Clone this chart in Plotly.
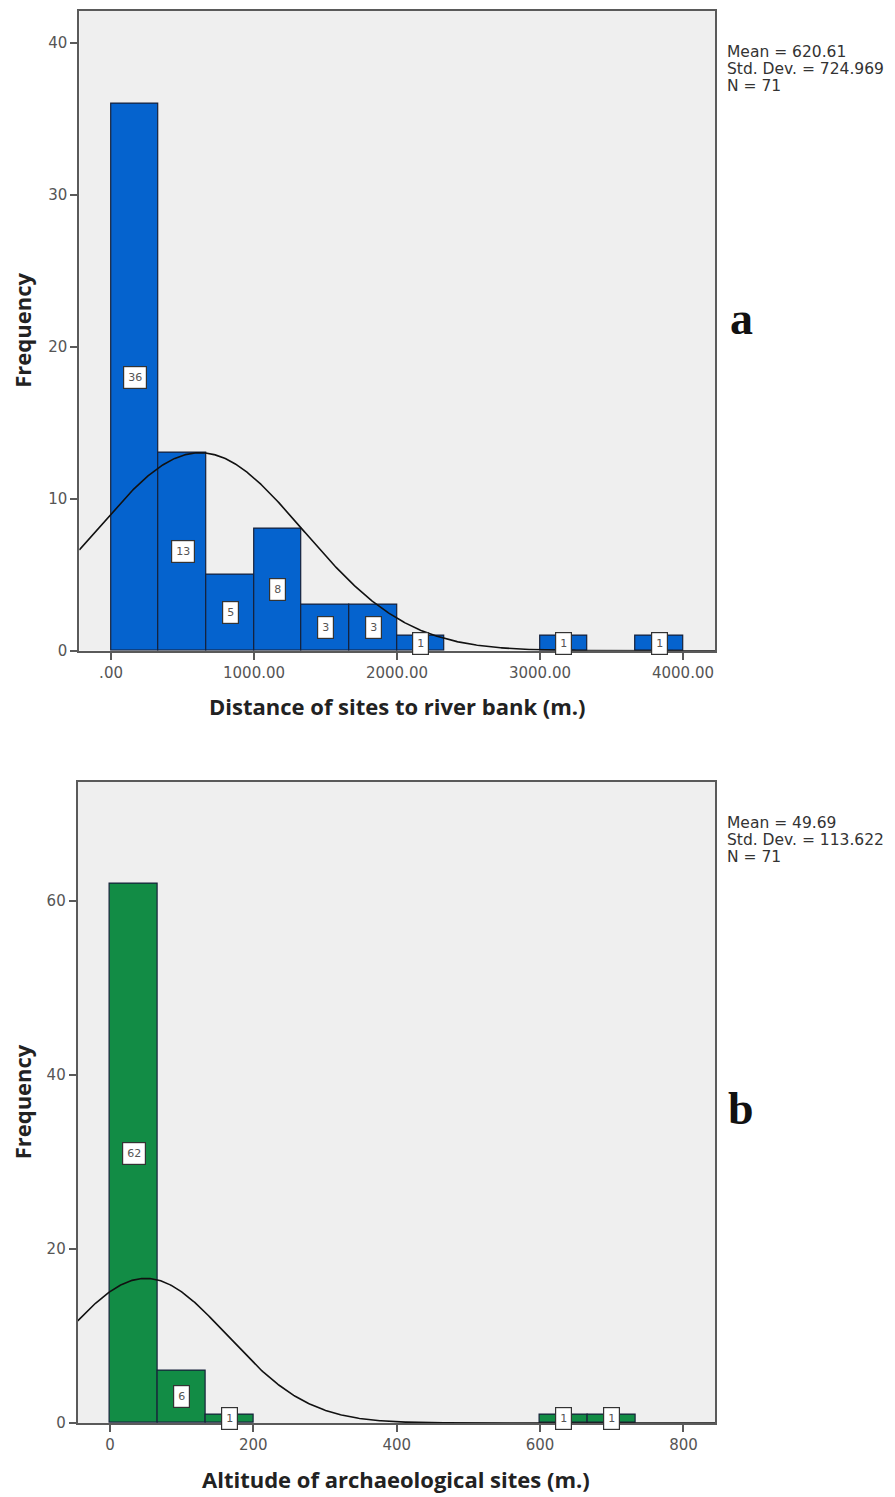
import numpy as np
import plotly.graph_objects as go

# page is 895x1497; the HTML body has an 8px margin, so the figure is
# drawn 8px smaller and every page coordinate is shifted by that offset
PAGE_W, PAGE_H = 895, 1497
OFF = 8
W, H = PAGE_W - OFF, PAGE_H - OFF

# ---------------- data ----------------
dist_bin_width = 1000.0 / 3.0
dist_counts = [36, 13, 5, 8, 3, 3, 1, 0, 0, 1, 0, 1]  # bins starting at 0
dist_mean, dist_sd, dist_n = 620.61, 724.969, 71
dist_xticks = [0, 1000, 2000, 3000, 4000]
dist_xticklabels = [".00", "1000.00", "2000.00", "3000.00", "4000.00"]
dist_yticks = [0, 10, 20, 30, 40]
dist_stats = ["Mean = 620.61", "Std. Dev. = 724.969", "N = 71"]

alt_bin_width = 200.0 / 3.0
alt_counts = [62, 6, 1, 0, 0, 0, 0, 0, 0, 1, 1]  # bins starting at 0
alt_mean, alt_sd, alt_n = 49.69, 113.622, 71
alt_xticks = [0, 200, 400, 600, 800]
alt_xticklabels = ["0", "200", "400", "600", "800"]
alt_yticks = [0, 20, 40, 60]
alt_stats = ["Mean = 49.69", "Std. Dev. = 113.622", "N = 71"]

# ---------------- layout constants (page pixels) ----------------
def px_x(p):
    return (p - OFF) / W

def px_y(p):
    return 1 - (p - OFF) / H

TOP = dict(x0=79.3, x1=715, y0=10.7, y1=650.7, xr=[-222, 4224], yr=[0, 42.1])
BOT = dict(x0=77.7, x1=715, y0=781.7, y1=1423, xr=[-45, 844], yr=[0, 73.7])

BLUE = "#0563CE"
GREEN = "#128C45"
EDGE = "#16213a"
BG = "#EFEFEF"
AXC = "#5a5a5a"
FONT = "Open Sans"
TICKFONT = "DejaVu Sans"

fig = go.Figure()


def add_hist(counts, bw, color, xa, ya, mean, sd, n, xr):
    lefts = [i * bw for i in range(len(counts))]
    xs = [l + bw / 2 for l, c in zip(lefts, counts) if c > 0]
    ys = [c for c in counts if c > 0]
    fig.add_trace(go.Bar(
        x=xs, y=ys, width=bw, xaxis=xa, yaxis=ya,
        marker=dict(color=color, line=dict(color=EDGE, width=1.2)),
        showlegend=False, hoverinfo="skip"))
    xc = np.linspace(xr[0], xr[1], 600)
    yc = n * bw / (sd * np.sqrt(2 * np.pi)) * np.exp(-0.5 * ((xc - mean) / sd) ** 2)
    fig.add_trace(go.Scatter(
        x=xc, y=yc, mode="lines", xaxis=xa, yaxis=ya,
        line=dict(color="#111111", width=1.6), showlegend=False, hoverinfo="skip"))
    for x, c in zip(xs, ys):
        fig.add_annotation(
            x=x, y=c / 2, xref=xa, yref=ya, text=str(c), showarrow=False,
            font=dict(family=TICKFONT, size=11, color="#555555"),
            bgcolor="white", bordercolor="#333333", borderwidth=1.2, borderpad=4)


add_hist(dist_counts, dist_bin_width, BLUE, "x", "y", dist_mean, dist_sd, dist_n, TOP["xr"])
add_hist(alt_counts, alt_bin_width, GREEN, "x2", "y2", alt_mean, alt_sd, alt_n, BOT["xr"])

axis_common = dict(
    showgrid=False, zeroline=False, showline=True, mirror=True, automargin=False,
    linecolor=AXC, linewidth=2, ticks="outside", ticklen=7, tickwidth=2,
    tickcolor=AXC, tickfont=dict(family=TICKFONT, size=15, color="#555555"),
)

fig.update_layout(
    width=W, height=H,
    margin=dict(l=0, r=0, t=0, b=0),
    paper_bgcolor="white",
    plot_bgcolor=BG,
    bargap=0,
    xaxis=dict(domain=[px_x(TOP["x0"]), px_x(TOP["x1"])], range=TOP["xr"],
               tickvals=dist_xticks, ticktext=dist_xticklabels, anchor="y", **axis_common),
    yaxis=dict(domain=[px_y(TOP["y1"]), px_y(TOP["y0"])], range=TOP["yr"],
               tickvals=dist_yticks, anchor="x", **axis_common),
    xaxis2=dict(domain=[px_x(BOT["x0"]), px_x(BOT["x1"])], range=BOT["xr"],
                tickvals=alt_xticks, ticktext=alt_xticklabels, anchor="y2", **axis_common),
    yaxis2=dict(domain=[px_y(BOT["y1"]), px_y(BOT["y0"])], range=BOT["yr"],
                tickvals=alt_yticks, anchor="x2", **axis_common),
)


def paper_text(x, y, text, size, bold=False, color="#222222", family=FONT,
               xanchor="center", yanchor="middle", angle=0, align="center", pad=1):
    fig.add_annotation(
        x=px_x(x), y=px_y(y), xref="paper", yref="paper", text=text,
        showarrow=False, xanchor=xanchor, yanchor=yanchor, textangle=angle,
        align=align, borderpad=pad,
        font=dict(family=family, size=size, color=color,
                  weight="bold" if bold else "normal"))


# axis titles
paper_text((TOP["x0"] + TOP["x1"]) / 2, 706, "Distance of sites to river bank (m.)", 22, bold=True)
paper_text((BOT["x0"] + BOT["x1"]) / 2, 1479, "Altitude of archaeological sites (m.)", 22, bold=True)
paper_text(22, (TOP["y0"] + TOP["y1"]) / 2, "Frequency", 22, bold=True, angle=-90)
paper_text(22, (BOT["y0"] + BOT["y1"]) / 2, "Frequency", 22, bold=True, angle=-90)

# statistics text
for i, line in enumerate(dist_stats):
    paper_text(726, 52 + i * 17, line, 15.5, color="#333333", family=TICKFONT,
               xanchor="left", align="left", pad=0)
for i, line in enumerate(alt_stats):
    paper_text(726, 823 + i * 17, line, 15.5, color="#333333", family=TICKFONT,
               xanchor="left", align="left", pad=0)

# panel letters
paper_text(741, 318, "a", 46, bold=True, color="#111111", family="Liberation Serif")
paper_text(741, 1108, "b", 46, bold=True, color="#111111", family="Liberation Serif")

fig.write_html("out.html")
